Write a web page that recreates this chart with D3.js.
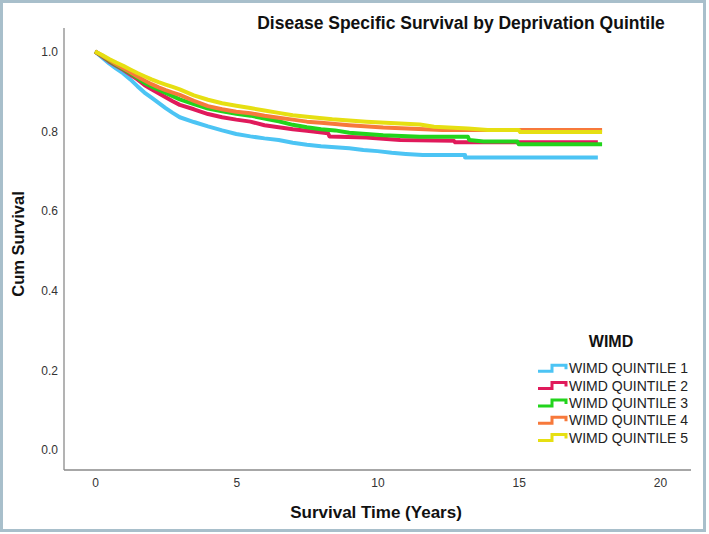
<!DOCTYPE html>
<html>
<head>
<meta charset="utf-8">
<script src="https://cdn.jsdelivr.net/npm/d3@7"></script>
<style>
  html, body { margin: 0; padding: 0; background: #fff; }
  svg { display: block; font-family: "Liberation Sans", Arial, sans-serif; }
</style>
</head>
<body>
<svg id="chart" width="709" height="534"></svg>
<script>
// ---- data (repeated times mark a visible drop) ----
const seriesNames = ["WIMD QUINTILE 1", "WIMD QUINTILE 2", "WIMD QUINTILE 3", "WIMD QUINTILE 4", "WIMD QUINTILE 5"];
const seriesColors = ["#4cc4f4", "#e01a5b", "#22d41c", "#f7793b", "#e6df12"];

const q1Times = [0, 0.25, 0.5, 0.75, 1, 1.25, 1.5, 1.75, 2, 2.25, 2.5, 2.75, 3, 3.5, 4, 4.5, 5, 5.5, 6, 6.5, 7, 7.5, 8, 8.5, 9, 9.5, 10, 10.5, 11, 11.6, 13.1, 13.1, 17.8];
const q1Surv  = [1, 0.985, 0.970, 0.957, 0.945, 0.930, 0.913, 0.897, 0.884, 0.871, 0.858, 0.846, 0.835, 0.823, 0.812, 0.802, 0.793, 0.787, 0.782, 0.778, 0.771, 0.766, 0.762, 0.760, 0.757, 0.753, 0.750, 0.746, 0.743, 0.740, 0.740, 0.734, 0.734];

const q2Times = [0, 0.25, 0.5, 0.75, 1, 1.25, 1.5, 1.75, 2, 2.25, 2.5, 2.75, 3, 3.5, 4, 4.5, 5, 5.5, 6, 6.5, 7, 7.5, 8.25, 8.3, 9.6, 10.8, 12.7, 12.75, 17.8];
const q2Surv  = [1, 0.988, 0.975, 0.964, 0.954, 0.942, 0.930, 0.916, 0.905, 0.895, 0.885, 0.875, 0.866, 0.855, 0.843, 0.835, 0.829, 0.824, 0.815, 0.810, 0.805, 0.801, 0.795, 0.787, 0.784, 0.778, 0.776, 0.772, 0.772];

const q3Times = [0, 0.25, 0.5, 0.75, 1, 1.25, 1.5, 1.75, 2, 2.25, 2.5, 2.75, 3, 3.5, 4, 4.5, 5, 5.5, 6, 6.5, 7, 7.5, 8, 8.5, 9, 10.2, 11.5, 13.2, 13.25, 13.75, 14.95, 15, 17.95];
const q3Surv  = [1, 0.989, 0.977, 0.966, 0.956, 0.945, 0.934, 0.921, 0.912, 0.904, 0.896, 0.888, 0.880, 0.868, 0.857, 0.850, 0.844, 0.839, 0.832, 0.825, 0.816, 0.810, 0.805, 0.802, 0.796, 0.790, 0.786, 0.786, 0.778, 0.774, 0.774, 0.767, 0.767];

const q4Times = [0, 0.25, 0.5, 0.75, 1, 1.25, 1.5, 1.75, 2, 2.25, 2.5, 2.75, 3, 3.5, 4, 4.5, 5, 5.5, 6, 6.5, 7, 7.5, 8, 9, 10.2, 12.3, 17.95];
const q4Surv  = [1, 0.990, 0.979, 0.968, 0.958, 0.948, 0.937, 0.927, 0.918, 0.910, 0.903, 0.897, 0.891, 0.876, 0.863, 0.855, 0.849, 0.845, 0.839, 0.834, 0.829, 0.824, 0.821, 0.815, 0.809, 0.803, 0.803];

const q5Times = [0, 0.25, 0.5, 0.75, 1, 1.25, 1.5, 1.75, 2, 2.25, 2.5, 2.75, 3, 3.5, 4, 4.5, 5, 5.5, 6, 6.5, 7, 7.5, 8.4, 9.6, 11.5, 12, 13.2, 13.9, 15, 15.05, 17.95];
const q5Surv  = [1, 0.991, 0.981, 0.972, 0.964, 0.955, 0.946, 0.938, 0.930, 0.923, 0.917, 0.911, 0.905, 0.890, 0.879, 0.870, 0.864, 0.858, 0.852, 0.846, 0.840, 0.836, 0.830, 0.824, 0.817, 0.811, 0.807, 0.803, 0.803, 0.798, 0.798];

const xTicks = [0, 5, 10, 15, 20];
const yTicks = [0.0, 0.2, 0.4, 0.6, 0.8, 1.0];

const chartTitle = "Disease Specific Survival by Deprivation Quintile";
const xTitle = "Survival Time (Years)";
const yTitle = "Cum Survival";
const legendTitle = "WIMD";

// ---- build ----
const allTimes = [q1Times, q2Times, q3Times, q4Times, q5Times];
const allSurv = [q1Surv, q2Surv, q3Surv, q4Surv, q5Surv];
const series = seriesNames.map((name, i) => ({
  name, color: seriesColors[i],
  points: allTimes[i].map((t, j) => [t, allSurv[i][j]])
}));

const svg = d3.select("#chart");

// outer frame
svg.append("rect")
  .attr("x", 1.5).attr("y", 1.5).attr("width", 703).attr("height", 529)
  .attr("fill", "#fff").attr("stroke", "#a8bfcb").attr("stroke-width", 3);

const x = d3.scaleLinear().domain([0, 20]).range([95, 660]);
const y = d3.scaleLinear().domain([0, 1]).range([450, 51.5]);

const axisX0 = 64, axisY0 = 470;

// axis lines
svg.append("line").attr("x1", axisX0).attr("x2", axisX0).attr("y1", 28).attr("y2", axisY0)
  .attr("stroke", "#8a8a8a").attr("stroke-width", 1.3);
svg.append("line").attr("x1", axisX0).attr("x2", 691).attr("y1", axisY0).attr("y2", axisY0)
  .attr("stroke", "#8a8a8a").attr("stroke-width", 1.3);

const gx = svg.append("g").attr("transform", `translate(0,${axisY0})`)
  .call(d3.axisBottom(x).tickValues(xTicks).tickFormat(d3.format("d")).tickSize(0).tickPadding(8.5));
gx.select(".domain").remove();
gx.selectAll("text").attr("font-size", 12).attr("fill", "#333").attr("font-family", "Liberation Sans, Arial, sans-serif");

const gy = svg.append("g").attr("transform", `translate(${axisX0},0)`)
  .call(d3.axisLeft(y).tickValues(yTicks).tickFormat(d3.format(".1f")).tickSize(0).tickPadding(6));
gy.select(".domain").remove();
gy.selectAll("text").attr("font-size", 12).attr("fill", "#333").attr("font-family", "Liberation Sans, Arial, sans-serif");

// curves
const line = d3.line().x(d => x(d[0])).y(d => y(d[1]));
svg.append("g").selectAll("path").data(series).join("path")
  .attr("d", d => line(d.points))
  .attr("fill", "none")
  .attr("stroke", d => d.color)
  .attr("stroke-width", 4)
  .attr("stroke-linejoin", "round");

// titles
svg.append("text").attr("x", 461).attr("y", 29).attr("text-anchor", "middle")
  .attr("font-size", 17.5).attr("font-weight", "bold").attr("fill", "#111").text(chartTitle);
svg.append("text").attr("x", 376).attr("y", 518).attr("text-anchor", "middle")
  .attr("font-size", 17).attr("font-weight", "bold").attr("fill", "#111").text(xTitle);
svg.append("text").attr("transform", "translate(24,244) rotate(-90)").attr("text-anchor", "middle")
  .attr("font-size", 16.5).attr("font-weight", "bold").attr("fill", "#111").text(yTitle);

// legend
svg.append("text").attr("x", 611).attr("y", 347).attr("text-anchor", "middle")
  .attr("font-size", 16).attr("font-weight", "bold").attr("fill", "#111").text(legendTitle);
const lg = svg.append("g").selectAll("g").data(series).join("g")
  .attr("transform", (d, i) => `translate(0,${368.3 + i * 17.3})`);
lg.append("path")
  .attr("d", "M538,3H552V-3H566V1")
  .attr("fill", "none").attr("stroke", d => d.color).attr("stroke-width", 3);
lg.append("text").attr("x", 569).attr("y", 5).attr("font-size", 14).attr("fill", "#222")
  .text(d => d.name);
</script>
</body>
</html>
